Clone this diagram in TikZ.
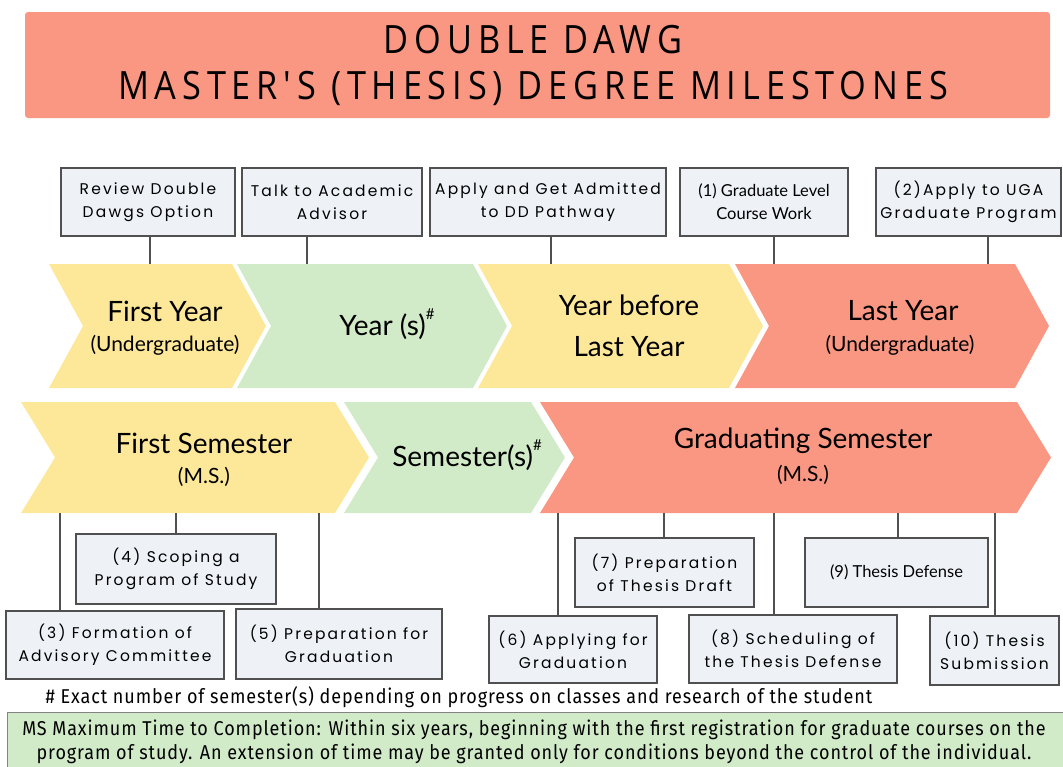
\documentclass[tikz,border=0pt]{standalone}
\usepackage{fontspec}
\setmainfont{Lato}
\newfontfamily\titlefont[LetterSpace=15,FakeStretch=0.88]{Open Sans}
\newfontfamily\boxfont[LetterSpace=14]{Poppins}
\newfontfamily\chevfont{Lato}
\newfontfamily\notefont[FakeStretch=0.9,LetterSpace=4.5]{Fira Sans}
\definecolor{salmon}{HTML}{FA9782}
\definecolor{butter}{HTML}{FDE899}
\definecolor{mint}{HTML}{D1EBC9}
\definecolor{boxfill}{HTML}{EEF2F7}
\definecolor{boxline}{HTML}{505050}
\tikzset{
  msbox/.style={draw=boxline, fill=boxfill, line width=1.2pt, inner sep=0pt, align=center,
    font=\boxfont\fontsize{15.5}{23}\selectfont},
  plainbox/.style={msbox, font=\chevfont\fontsize{16.5}{23}\selectfont},
  link/.style={draw=boxline, line width=1.2pt},
  chevtext/.style={align=center, inner sep=0pt},
  big/.style={font=\chevfont\fontsize{28}{28}\selectfont},
  small/.style={font=\chevfont\fontsize{21}{21}\selectfont}
}
\newcommand\mbx[7][msbox]{\node[#1, minimum width={#5-#3}, minimum height={#6-#4}] (#2) at ({(#3+#5)/2},{(#4+#6)/2}) {#7};}
\newcommand\chv[6]{\fill[#1] (#2,#4) -- (#3,#4) -- (#3+#6,{(#4+#5)/2}) -- (#3,#5) -- (#2,#5) -- (#2+#6,{(#4+#5)/2}) -- cycle;}
\newcommand\hashsup{\raisebox{0.55em}{\fontsize{15}{15}\selectfont\#}}
\begin{document}
\begin{tikzpicture}[x=1pt,y=-1pt]
\useasboundingbox (0,0) rectangle (1063,766);
% title
\fill[salmon, rounded corners=3pt] (25,12) rectangle (1050,118);
\node[font=\titlefont\fontsize{39}{39}\selectfont] (t1) at (533,40) {DOUBLE DAWG};
\node[font=\titlefont\fontsize{39}{39}\selectfont] (t2) at (533,88) {MASTER'S (THESIS) DEGREE MILESTONES};
% top chevrons
\chv{butter}{49}{232}{264}{388}{34}
\chv{mint}{237}{473}{264}{388}{34}
\chv{butter}{478}{729}{264}{388}{34}
\chv{salmon}{735}{1015}{264}{388}{34}
\node[chevtext, big] (c1a) at (165,311) {First Year};
\node[chevtext, small] (c1b) at (165,345) {(Undergraduate)};
\node[chevtext, big] (c2) at (387,324) {Year (s)\hashsup};
\node[chevtext, big] (c3a) at (629,305) {Year before};
\node[chevtext, big] (c3b) at (629,347) {Last Year};
\node[chevtext, big] (c4a) at (903,311) {Last Year};
\node[chevtext, small] (c4b) at (900,345) {(Undergraduate)};
% bottom chevrons
\chv{butter}{21}{335}{402}{513}{34}
\chv{mint}{344}{531}{402}{513}{34}
\chv{salmon}{540}{1017}{402}{513}{34}
\node[chevtext, big] (d1a) at (204,443) {First Semester};
\node[chevtext, small] (d1b) at (204,477) {(M.S.)};
\node[chevtext, big] (d2) at (467,455) {Semester(s)\hashsup};
\node[chevtext, big] (d3a) at (803,441) {Graduating Semester};
\node[chevtext, small] (d3b) at (803,475) {(M.S.)};
% top boxes
\mbx{b1}{61}{168}{235}{236}{Review Double\\Dawgs Option}
\mbx{b2}{242}{168}{422}{236}{Talk to Academic\\Advisor}
\mbx{b3}{430}{168}{666}{236}{Apply and Get Admitted\\to DD Pathway}
\mbx[plainbox]{b4}{680}{168}{848}{236}{(1) Graduate Level\\Course Work}
\mbx{b5}{876}{168}{1061}{236}{(2)Apply to UGA\\Graduate Program}
\coordinate (p1) at (150,264);
\coordinate (p2) at (307,264);
\coordinate (p3) at (551,264);
\coordinate (p4) at (774,264);
\coordinate (p5) at (988,264);
\foreach \b/\p in {b1/p1,b2/p2,b3/p3,b4/p4,b5/p5}{\draw[link] (\p |- \b.south) -- (\p);}
% bottom boxes
\coordinate (q6) at (60,513);
\coordinate (q7) at (176,513);
\coordinate (q8) at (319,513);
\coordinate (q9) at (558,513);
\coordinate (q10) at (664,513);
\coordinate (q11) at (774,513);
\coordinate (q12) at (898,513);
\coordinate (q13) at (995,513);
\mbx{b6}{6}{611}{224}{679}{(3) Formation of\\Advisory Committee}
\mbx{b7}{76}{534}{276}{604}{(4) Scoping a\\Program of Study}
\mbx{b8}{236}{609}{442}{679}{(5) Preparation for\\Graduation}
\mbx{b9}{489}{616}{657}{683}{(6) Applying for\\Graduation}
\mbx{b10}{575}{538}{754}{607}{(7) Preparation\\of Thesis Draft}
\mbx{b11}{689}{615}{897}{683}{(8) Scheduling of\\the Thesis Defense}
\mbx[plainbox]{b12}{805}{538}{988}{607}{(9) Thesis Defense}
\mbx{b13}{930}{616}{1059}{685}{(10) Thesis\\Submission}
\foreach \b/\p in {b6/q6,b7/q7,b8/q8,b9/q9,b10/q10,b11/q11,b12/q12,b13/q13}{\draw[link] (\p) -- (\p |- \b.north);}
% notes
\node[font=\notefont\fontsize{20}{20}\selectfont, inner sep=0pt] (n1) at (459,697) {\# Exact number of semester(s) depending on progress on classes and research of the student};
\draw[draw=boxline!70, fill=mint, line width=1pt] (7,712) rectangle (1070,772);
\node[font=\notefont\fontsize{20}{24}\selectfont, align=center, inner sep=0pt] (n2) at (534,742) {MS Maximum Time to Completion: Within six years, beginning with the first registration for graduate courses on the\\program of study. An extension of time may be granted only for conditions beyond the control of the individual.};
\end{tikzpicture}
\end{document}
